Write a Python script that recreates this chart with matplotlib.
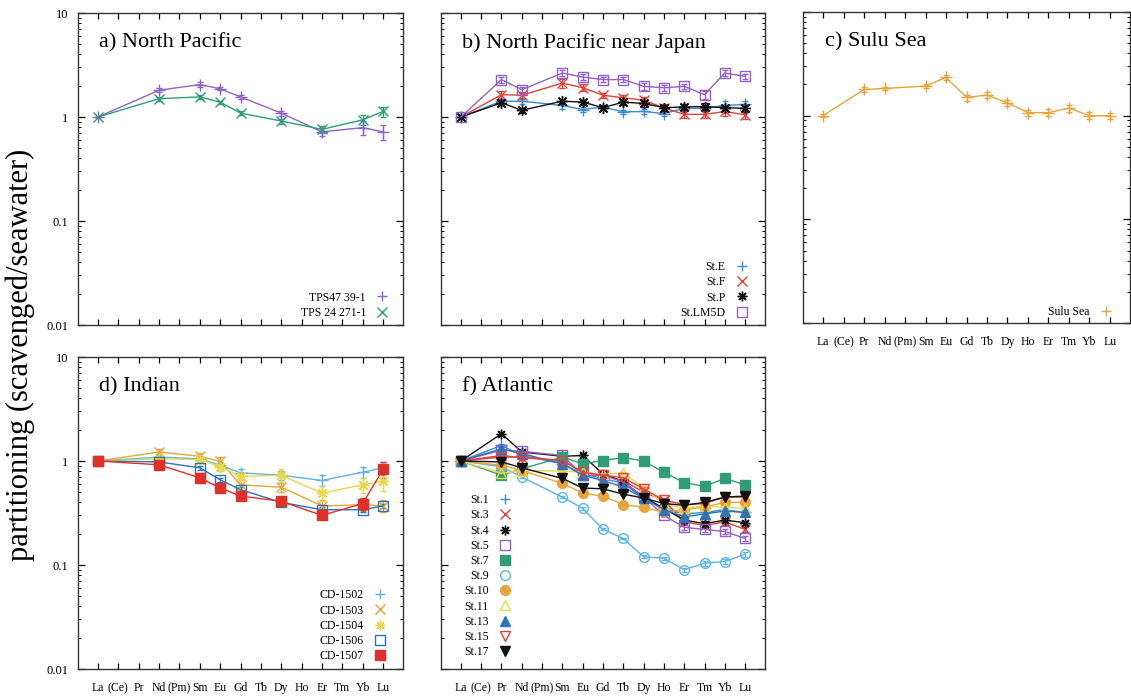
import numpy as np
import matplotlib
matplotlib.use('Agg')
import matplotlib.pyplot as plt
from matplotlib.lines import Line2D
from matplotlib.ticker import LogLocator, NullFormatter, FixedLocator

plt.rcParams['font.family'] = ['Liberation Serif', 'DejaVu Serif']

# element axis
elements = ['La', '(Ce)', 'Pr', 'Nd', '(Pm)', 'Sm', 'Eu', 'Gd', 'Tb', 'Dy',
            'Ho', 'Er', 'Tm', 'Yb', 'Lu']
sub9 = ['La', 'Nd', 'Sm', 'Eu', 'Gd', 'Dy', 'Er', 'Yb', 'Lu']
sub13 = ['La', 'Pr', 'Nd', 'Sm', 'Eu', 'Gd', 'Tb', 'Dy', 'Ho', 'Er', 'Tm', 'Yb', 'Lu']

# a) North Pacific
tps47 = [1.0, 1.81, 2.05, 1.87, 1.56, 1.09, 0.72, 0.79, 0.72]
tps47_err = [0.0, 0.08, 0.1, 0.07, 0.06, 0.06, 0.07, 0.12, 0.12]
tps24 = [1.0, 1.50, 1.56, 1.39, 1.09, 0.915, 0.76, 0.94, 1.13]
tps24_err = [0.0, 0.06, 0.08, 0.05, 0.05, 0.05, 0.06, 0.1, 0.13]

# b) North Pacific near Japan
stE = [1.0, 1.42, 1.42, 1.29, 1.18, 1.25, 1.12, 1.13, 1.08, 1.21, 1.21, 1.29, 1.32]
stE_err = [0.0, 0.08, 0.1, 0.1, 0.06, 0.06, 0.06, 0.06, 0.06, 0.08, 0.08, 0.12, 0.12]
stF = [1.0, 1.64, 1.62, 2.12, 1.91, 1.62, 1.53, 1.45, 1.22, 1.06, 1.06, 1.13, 1.05]
stF_err = [0.0, 0.15, 0.12, 0.2, 0.15, 0.1, 0.1, 0.12, 0.1, 0.08, 0.08, 0.1, 0.1]
stP = [1.0, 1.37, 1.16, 1.42, 1.39, 1.23, 1.39, 1.35, 1.23, 1.25, 1.26, 1.23, 1.21]
stP_err = [0.0, 0.08, 0.06, 0.08, 0.08, 0.06, 0.08, 0.1, 0.08, 0.08, 0.1, 0.08, 0.1]
stLM5D = [1.0, 2.29, 1.83, 2.65, 2.42, 2.29, 2.29, 1.97, 1.91, 1.97, 1.64, 2.65, 2.46]
stLM5D_err = [0.05, 0.15, 0.12, 0.18, 0.15, 0.12, 0.12, 0.14, 0.14, 0.12, 0.14, 0.15, 0.12]

# c) Sulu Sea
sulu = [1.0, 1.79, 1.83, 1.93, 2.34, 1.50, 1.58, 1.33, 1.07, 1.07, 1.18, 1.0, 1.0]
sulu_err = [0.03, 0.08, 0.08, 0.1, 0.15, 0.1, 0.1, 0.08, 0.07, 0.08, 0.1, 0.08, 0.07]

# d) Indian
cd1502 = [1.0, 1.09, 1.05, 0.91, 0.77, 0.73, 0.65, 0.78, 0.86]
cd1502_err = [0.0, 0.05, 0.05, 0.06, 0.07, 0.08, 0.08, 0.1, 0.12]
cd1503 = [1.0, 1.22, 1.11, 0.99, 0.59, 0.56, 0.37, 0.38, 0.37]
cd1503_err = [0.0, 0.07, 0.08, 0.1, 0.06, 0.06, 0.05, 0.05, 0.05]
cd1504 = [1.0, 1.05, 1.03, 0.88, 0.71, 0.73, 0.49, 0.59, 0.64]
cd1504_err = [0.0, 0.05, 0.05, 0.07, 0.06, 0.1, 0.08, 0.1, 0.12]
cd1506 = [1.0, 0.98, 0.86, 0.66, 0.53, 0.40, 0.34, 0.34, 0.37]
cd1506_err = [0.0, 0.03, 0.04, 0.03, 0.03, 0.02, 0.02, 0.02, 0.02]
cd1507 = [1.0, 0.92, 0.69, 0.55, 0.46, 0.41, 0.30, 0.39, 0.83]
cd1507_err = [0.0, 0.03, 0.03, 0.03, 0.03, 0.02, 0.02, 0.05, 0.15]

# f) Atlantic
st1 = [1.0, 1.41, 1.13, 0.94, 0.75, 0.68, 0.61, 0.44, 0.35, 0.31, 0.32, 0.34, 0.32]
st3 = [1.0, 1.13, 1.08, 1.01, 0.78, 0.73, 0.65, 0.50, 0.42, 0.26, 0.24, 0.26, 0.22]
st4 = [1.0, 1.83, 1.22, 1.11, 1.13, 0.75, 0.63, 0.45, 0.35, 0.27, 0.25, 0.27, 0.255]
st5 = [1.0, 1.27, 1.24, 1.13, 0.73, 0.73, 0.63, 0.45, 0.30, 0.23, 0.22, 0.21, 0.18]
st7 = [1.0, 0.73, 0.84, 1.09, 0.94, 1.01, 1.08, 1.0, 0.78, 0.62, 0.57, 0.68, 0.59]
st9 = [1.0, 0.88, 0.70, 0.45, 0.35, 0.22, 0.18, 0.12, 0.116, 0.09, 0.104, 0.108, 0.127]
st10 = [1.0, 0.91, 0.81, 0.61, 0.49, 0.46, 0.38, 0.36, 0.32, 0.34, 0.36, 0.40, 0.40]
st11 = [1.0, 0.76, 0.81, 0.80, 0.78, 0.75, 0.77, 0.55, 0.39, 0.35, 0.37, 0.36, 0.35]
st13 = [1.0, 1.31, 1.18, 0.94, 0.73, 0.65, 0.56, 0.44, 0.34, 0.29, 0.31, 0.33, 0.32]
st15 = [1.0, 1.09, 1.09, 1.01, 0.78, 0.73, 0.69, 0.54, 0.42, 0.38, 0.39, 0.45, 0.45]
st17 = [1.0, 0.98, 0.86, 0.68, 0.55, 0.54, 0.48, 0.44, 0.39, 0.375, 0.40, 0.45, 0.46]
f_err = [0.0, 0.03, 0.03, 0.03, 0.03, 0.02, 0.02, 0.03, 0.04, 0.05, 0.05, 0.06, 0.05]

purple = '#9161c8'
green = '#2f9e78'
midblue = '#3b8bd5'
red = '#e2403a'
orange = '#e8a33a'
sky = '#5cb4ea'
yellow = '#e8d84a'
blue = '#2e72b8'
fred = '#e0302a'
black = '#111111'
asterisk = (8, 2, 0)

W, H = 1131, 696
fig = plt.figure(figsize=(W / 100, H / 100), dpi=100)


def make_axes(l, r, t, b):
    return fig.add_axes([l / W, 1 - b / H, (r - l) / W, (b - t) / H])


def style(ax, xlabels, ylabels):
    ax.set_yscale('log')
    ax.set_ylim(0.01, 10)
    ax.set_xlim(0.02, 15.98)
    ax.xaxis.set_major_locator(FixedLocator(range(1, 16)))
    if xlabels:
        ax.set_xticklabels(elements, fontsize=8.5, va='baseline')
    else:
        ax.set_xticklabels([])
    ax.yaxis.set_major_locator(LogLocator(base=10, numticks=10))
    ax.yaxis.set_minor_locator(LogLocator(base=10, subs=np.arange(2, 10), numticks=10))
    ax.yaxis.set_minor_formatter(NullFormatter())
    if ylabels:
        ax.set_yticks([0.01, 0.1, 1, 10])
        ax.set_yticklabels(['0.01', '0.1', '1', '10'], fontsize=9)
    else:
        ax.set_yticklabels([])
    ax.tick_params(axis='both', which='major', direction='in', top=True, right=True,
                   length=5, width=0.9, pad=7)
    ax.tick_params(axis='y', which='minor', direction='in', right=True, length=2.5, width=0.7)
    ax.tick_params(axis='x', which='major', length=4, pad=16)
    for s in ax.spines.values():
        s.set_linewidth(1.0)
        s.set_color('#333333')


def series(ax, names, vals, err, color, marker, filled=False, ms=6):
    x = [elements.index(n) + 1 for n in names]
    ax.errorbar(x, vals, yerr=err, color=color, lw=1.0, elinewidth=0.9, capsize=2.5,
                capthick=0.9, marker=marker, ms=ms, mew=1.0,
                mfc=color if filled else 'none', mec=color)


def legend(ax, entries, loc, anchor):
    handles = [Line2D([], [], ls='none', marker=m, color=c, mfc=c if f else 'none',
                      mec=c, ms=7, mew=1.0) for (_, c, m, f) in entries]
    labels = [e[0] for e in entries]
    ax.legend(handles, labels, loc=loc, bbox_to_anchor=anchor, frameon=False,
              markerfirst=False, fontsize=8.5, handlelength=1.0, handletextpad=0.9,
              labelspacing=0.27, borderpad=0, borderaxespad=0)


def title(ax, text):
    ax.text(0.066, 0.905, text, transform=ax.transAxes, fontsize=16, va='center', ha='left')


# a
ax = make_axes(78, 403, 13, 325)
style(ax, False, True)
series(ax, sub9, tps47, tps47_err, purple, '+', ms=8)
series(ax, sub9, tps24, tps24_err, green, 'x', ms=7)
title(ax, 'a) North Pacific')
legend(ax, [('TPS47 39-1', purple, '+', False), ('TPS 24 271-1', green, 'x', False)],
       'lower right', (0.955, 0.02))

# b
ax = make_axes(441, 765, 13, 325)
style(ax, False, False)
series(ax, sub13, stE, stE_err, midblue, '+', ms=8)
series(ax, sub13, stF, stF_err, red, 'x', ms=7)
series(ax, sub13, stP, stP_err, black, asterisk, ms=8)
series(ax, sub13, stLM5D, stLM5D_err, purple, 's', ms=7)
title(ax, 'b) North Pacific near Japan')
legend(ax, [('St.E', midblue, '+', False), ('St.F', red, 'x', False),
            ('St.P', black, asterisk, False), ('St.LM5D', purple, 's', False)],
       'lower right', (0.948, 0.02))

# c
ax = make_axes(803, 1130, 12, 323)
style(ax, True, False)
series(ax, sub13, sulu, sulu_err, orange, '+', ms=8)
title(ax, 'c) Sulu Sea')
legend(ax, [('Sulu Sea', orange, '+', False)], 'lower right', (0.945, 0.016))

# d
ax = make_axes(78, 403, 357, 669)
style(ax, True, True)
series(ax, sub9, cd1502, cd1502_err, sky, '+', ms=8)
series(ax, sub9, cd1503, cd1503_err, orange, 'x', ms=7)
series(ax, sub9, cd1504, cd1504_err, yellow, asterisk, ms=8)
series(ax, sub9, cd1506, cd1506_err, blue, 's', ms=7)
series(ax, sub9, cd1507, cd1507_err, fred, 's', filled=True, ms=7)
title(ax, 'd) Indian')
legend(ax, [('CD-1502', sky, '+', False), ('CD-1503', orange, 'x', False),
            ('CD-1504', yellow, asterisk, False), ('CD-1506', blue, 's', False),
            ('CD-1507', fred, 's', True)],
       'lower right', (0.948, 0.022))

# f
ax = make_axes(441, 765, 357, 669)
style(ax, True, False)
f_series = [
    ('St.1', st1, midblue, '+', False),
    ('St.3', st3, red, 'x', False),
    ('St.4', st4, black, asterisk, False),
    ('St.5', st5, purple, 's', False),
    ('St.7', st7, green, 's', True),
    ('St.9', st9, sky, 'o', False),
    ('St.10', st10, orange, 'o', True),
    ('St.11', st11, yellow, '^', False),
    ('St.13', st13, blue, '^', True),
    ('St.15', st15, red, 'v', False),
    ('St.17', st17, black, 'v', True),
]
for name, vals, c, m, filled in f_series:
    series(ax, sub13, vals, np.array(f_err) * np.array(vals), c, m, filled=filled,
           ms=8 if m in ('+',) else 7)
title(ax, 'f) Atlantic')
legend(ax, [(n, c, m, f) for n, _, c, m, f in f_series], 'upper right', (0.216, 0.56))

fig.text(0.018, 0.49, 'partitioning (scavenged/seawater)', rotation=90,
         fontsize=22, va='center', ha='center')

fig.savefig('out.png', dpi=100)
